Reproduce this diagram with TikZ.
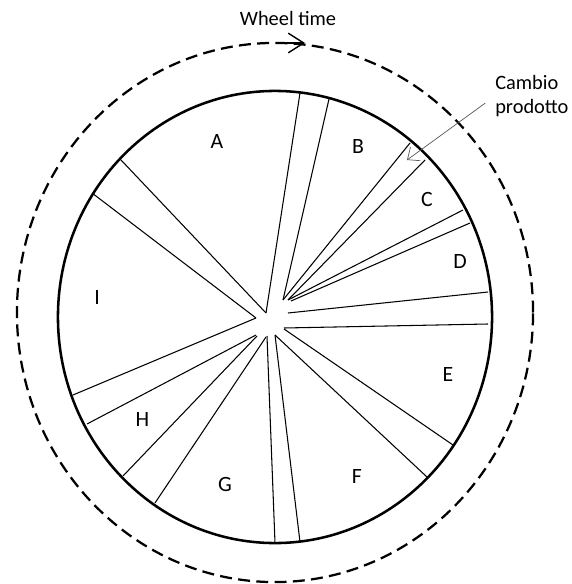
\documentclass[tikz,border=0pt]{standalone}
\usepackage{fontspec}
\setmainfont{Carlito}
\usetikzlibrary{arrows.meta}

\begin{document}
\begin{tikzpicture}[x=0.025cm, y=-0.025cm,
        spoke/.style={line width=.75pt},
        letter/.style={font=\fontsize{15.5}{18}\selectfont, inner sep=0pt},
        label/.style={font=\fontsize{14.5}{17}\selectfont}]
        \useasboundingbox (0,0) rectangle (571,584);
        %wheel
        \draw[line width=1.8pt] (275,317) ellipse [x radius=5.425cm, y radius=5.65cm];
        %wheel time
        \draw[line width=1.6pt, dash pattern=on 8.5pt off 4.5pt] (275,312.5) ellipse [x radius=6.45cm, y radius=6.7375cm];
        \draw[line width=1pt, -{Straight Barb[length=11pt,width=14pt]}] (286,43) -- (305,43);
        \node[label, anchor=base] (wt) at (288,26) {Wheel time};
        %A
        \draw[spoke] (121,160) -- (266,313);
        \draw[spoke] (300,93) -- (266,313);
        \node[letter] (la) at (217,142) {A};
        %B
        \draw[spoke] (329,99) -- (283,300);
        \draw[spoke] (410,143) -- (283,300);
        \node[letter] (lb) at (358,147) {B};
        %C
        \draw[spoke] (425,160) -- (288,300);
        \draw[spoke] (463,210) -- (288,300);
        \node[letter] (lc) at (427,199.5) {C};
        %D
        \draw[spoke] (470,223) -- (291,301);
        \draw[spoke] (488,292) -- (288,313);
        \node[letter] (ld) at (460,262) {D};
        %E
        \draw[spoke] (488,324) -- (284,328);
        \draw[spoke] (453,445) -- (284,329);
        \node[letter] (le) at (448,375) {E};
        %F
        \draw[spoke] (427,477) -- (275,335);
        \draw[spoke] (300,542) -- (275,335);
        \node[letter] (lf) at (357,477) {F};
        %G
        \draw[spoke] (275,543) -- (267,336);
        \draw[spoke] (155,503) -- (266,337);
        \node[letter] (lg) at (225,484) {G};
        %H
        \draw[spoke] (123,476) -- (257,336);
        \draw[spoke] (87,424) -- (256,335);
        \node[letter] (lh) at (142.5,419.5) {H};
        %I
        \draw[spoke] (73,395) -- (256,318);
        \draw[spoke] (92,193) -- (256,318);
        \node[letter] (li) at (97,298) {I};
        %product change
        \node[label, align=left, anchor=west, inner sep=0pt] (cambio) at (495,96) {Cambio\\prodotto};
        \coordinate (cp) at (407,160);
        \draw[black!65, line width=.5pt, shorten <=12pt*0.711, -{Straight Barb[length=7pt,width=12pt]}] (cambio.west) -- (cp);
\end{tikzpicture}
\end{document}
